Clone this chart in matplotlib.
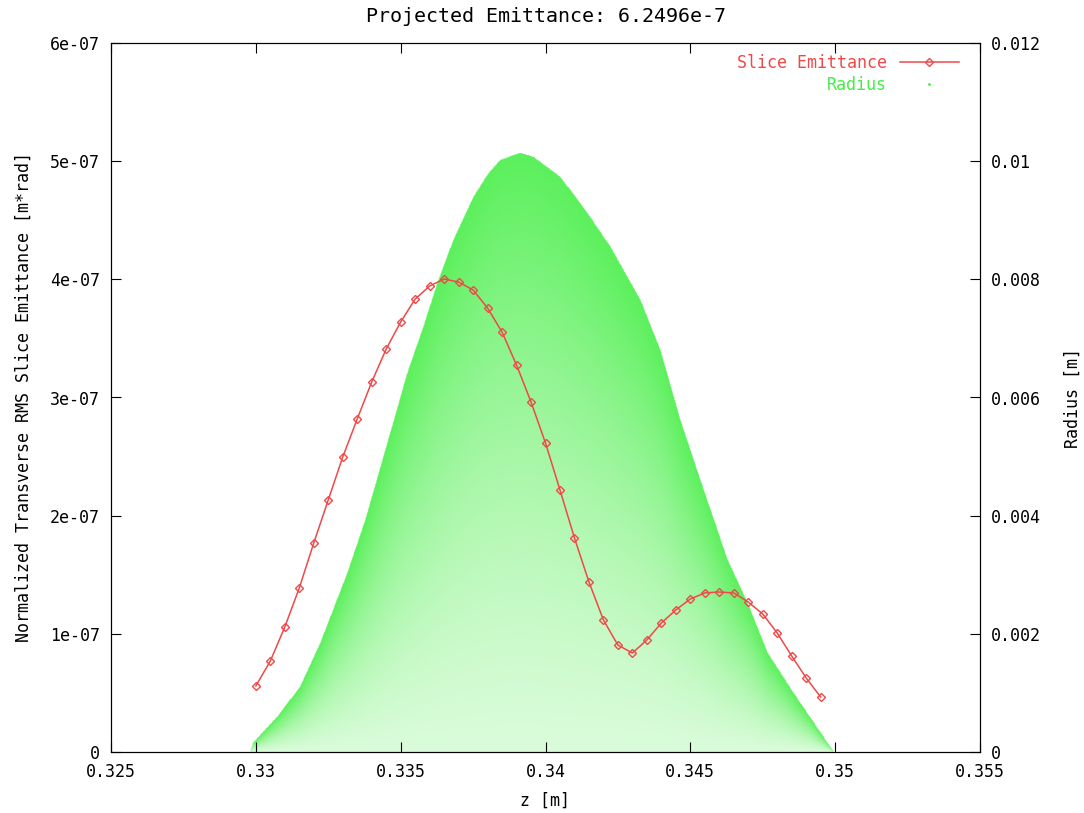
import numpy as np
import matplotlib
matplotlib.use("Agg")
from matplotlib import pyplot as plt
from matplotlib.lines import Line2D

plt.rcParams['font.family'] = ['DejaVu Sans Mono']
plt.rcParams['font.size'] = 12

# Slice emittance, one slice every 0.5 mm
slice_z = np.arange(40) * 0.0005 + 0.330
slice_emit = np.array([
    0.559, 0.770, 1.058, 1.388, 1.769, 2.133, 2.496, 2.818, 3.131, 3.410,
    3.639, 3.833, 3.943, 4.003, 3.977, 3.910, 3.757, 3.554, 3.275, 2.962,
    2.615, 2.217, 1.811, 1.439, 1.117, 0.905, 0.838, 0.948, 1.092, 1.202,
    1.295, 1.346, 1.354, 1.346, 1.269, 1.168, 1.007, 0.812, 0.626, 0.465,
]) * 1e-7

# outer edge of the particle cloud (radius vs z)
env_z = [0.32980, 0.32990, 0.33073, 0.33152, 0.33222, 0.33315, 0.33377,
         0.33463, 0.33522, 0.33577, 0.33630, 0.33681, 0.33750, 0.33800,
         0.33843, 0.33912, 0.33957, 0.34050, 0.34143, 0.34223, 0.34326,
         0.34395, 0.34464, 0.34533, 0.34627, 0.34696, 0.34765, 0.34854,
         0.34993]
env_r = [0.0, 0.000152, 0.000592, 0.001100, 0.001845, 0.003029, 0.003926,
         0.005399, 0.006414, 0.007193, 0.008000, 0.008666, 0.009393, 0.009780,
         0.010020, 0.010138, 0.010070, 0.009732, 0.009123, 0.008547, 0.007650,
         0.006804, 0.005619, 0.004604, 0.003250, 0.002522, 0.001676, 0.000999,
         0.0]

red = '#f04848'
green = '#44ee44'

fig = plt.figure(figsize=(10.84, 8.13), dpi=100)
ax = fig.add_axes([111 / 1084, 1 - 752 / 813, 869 / 1084, 709 / 813])
ax2 = ax.twinx()

# particle cloud: shade denser towards the outer edge
zz = np.linspace(env_z[0], env_z[-1], 900)
rr = np.linspace(0, 0.0105, 700)
Z, Rg = np.meshgrid(zz, rr)
edge = np.interp(Z, env_z, env_r)
frac = np.where(edge > 0, Rg / np.maximum(edge, 1e-9), 2)
img = np.zeros(Z.shape + (4,))
img[..., 0] = 0x44 / 255
img[..., 1] = 0xee / 255
img[..., 2] = 0x44 / 255
img[..., 3] = np.where(frac <= 1, 0.2 + 0.68 * frac ** 1.3, 0)
ax2.imshow(img, extent=[zz[0], zz[-1], 0, 0.0105], origin='lower',
           aspect='auto', interpolation='bilinear')

ax.plot(slice_z, slice_emit, color=red, lw=1.1, marker='D', ms=4.5,
        mfc='none', mec=red, mew=1)

ax.set_xlim(0.325, 0.355)
ax.set_ylim(0, 6e-7)
ax2.set_ylim(0, 0.012)
ax.set_xticks([0.325, 0.33, 0.335, 0.34, 0.345, 0.35, 0.355])
ax.set_xticklabels(['0.325', '0.33', '0.335', '0.34', '0.345', '0.35', '0.355'])
ax.set_yticks(np.arange(7) * 1e-7)
ax.set_yticklabels(['0', '1e-07', '2e-07', '3e-07', '4e-07', '5e-07', '6e-07'])
ax2.set_yticks([0, 0.002, 0.004, 0.006, 0.008, 0.01, 0.012])
ax2.set_yticklabels(['0', '0.002', '0.004', '0.006', '0.008', '0.01', '0.012'])

ax.tick_params(axis='x', direction='in', length=7, top=True, pad=8)
ax.tick_params(axis='y', direction='in', length=7, pad=8)
ax2.tick_params(axis='y', direction='in', length=7, pad=8)

ax.set_zorder(ax2.get_zorder() + 1)
ax.patch.set_visible(False)

ax.set_xlabel('z [m]', labelpad=8)
ax.set_ylabel('Normalized Transverse RMS Slice Emittance [m*rad]', labelpad=12)
ax2.set_ylabel('Radius [m]', labelpad=16)
ax.set_title('Projected Emittance: 6.2496e-7', pad=15)

handles = [Line2D([], [], color=red, lw=1.1, marker='D', ms=4.5, mfc='none', mec=red),
           Line2D([], [], color=green, ls='none', marker='.', ms=2)]
ax.legend(handles, ['Slice Emittance', 'Radius'], loc='upper right',
          bbox_to_anchor=(0.983, 0.994), borderaxespad=0,
          frameon=False, markerfirst=False, labelcolor=[red, green],
          handlelength=3.5, labelspacing=0.25)

fig.savefig('out.png', dpi=100)
